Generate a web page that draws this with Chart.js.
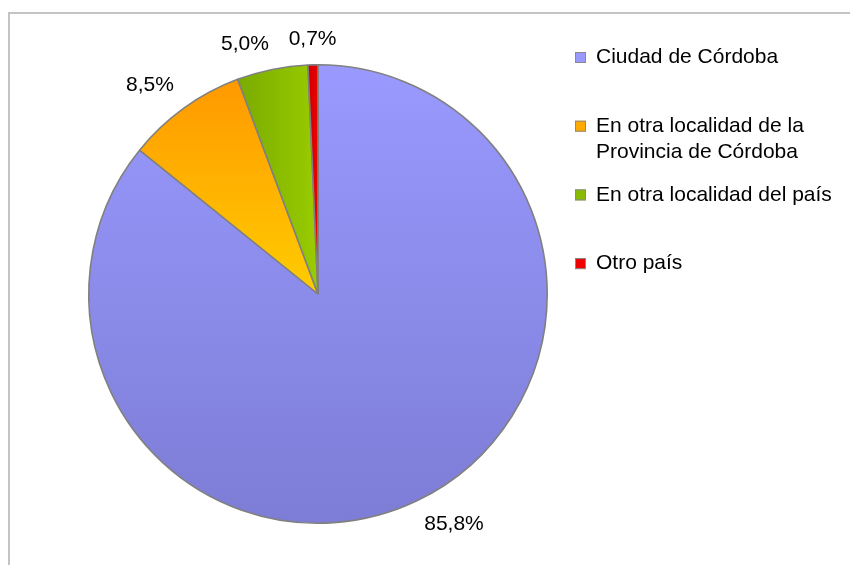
<!DOCTYPE html>
<html>
<head>
<meta charset="utf-8">
<script src="https://cdn.jsdelivr.net/npm/chart.js@4.4.1/dist/chart.umd.min.js"></script>
<style>
  html, body { margin: 0; padding: 0; background: #ffffff; }
  #wrap { position: relative; width: 850px; height: 565px; overflow: hidden; }
  #frame { position: absolute; left: 8px; top: 12px; width: 900px; height: 600px;
           border-top: 2px solid #c4c4c4; border-left: 2px solid #c4c4c4; }
  canvas { position: absolute; left: 0; top: 0; }
</style>
</head>
<body>
<div id="wrap">
  <div id="frame"></div>
  <canvas id="c" width="850" height="565"></canvas>
</div>
<script>
// ---- data ----
const categories = [
  'Ciudad de Córdoba',
  ['En otra localidad de la', 'Provincia de Córdoba'],
  'En otra localidad del país',
  'Otro país'
];
const values = [85.8, 8.5, 5.0, 0.7];
const valueLabels = ['85,8%', '8,5%', '5,0%', '0,7%'];

// ---- styles ----
const gradStops = [
  ['#9999ff', '#7d7dd6'],
  ['#ff9900', '#ffcc00'],
  ['#7aaa00', '#99cc00'],
  ['#cc0000', '#ee0000']
];
const gradDir = ['vertical', 'vertical', 'horizontal', 'horizontal'];
const legendSwatch = ['#9999ff', '#ffaa00', '#88bb00', '#ee0000'];
const FONT = '21px "Liberation Sans", Arial, sans-serif';

function sliceAngles(i) {
  const total = values.reduce((a, b) => a + b, 0);
  let start = -Math.PI / 2;
  for (let k = 0; k < i; k++) start += values[k] / total * Math.PI * 2;
  return [start, start + values[i] / total * Math.PI * 2];
}

function bg(ctx) {
  const chart = ctx.chart;
  const area = chart.chartArea;
  const i = ctx.dataIndex;
  if (!area) return gradStops[i][0];
  const cx = (area.left + area.right) / 2;
  const cy = (area.top + area.bottom) / 2;
  const r = Math.min(area.right - area.left, area.bottom - area.top) / 2;
  const [a0, a1] = sliceAngles(i);
  const pts = [[cx, cy]];
  const steps = 24;
  for (let s = 0; s <= steps; s++) {
    const a = a0 + (a1 - a0) * s / steps;
    pts.push([cx + r * Math.cos(a), cy + r * Math.sin(a)]);
  }
  const xs = pts.map(p => p[0]), ys = pts.map(p => p[1]);
  const c = chart.ctx;
  let g;
  if (gradDir[i] === 'vertical') {
    g = c.createLinearGradient(0, Math.min(...ys), 0, Math.max(...ys));
  } else {
    g = c.createLinearGradient(Math.min(...xs), 0, Math.max(...xs), 0);
  }
  g.addColorStop(0, gradStops[i][0]);
  g.addColorStop(1, gradStops[i][1]);
  return g;
}

const labelPlugin = {
  id: 'sliceLabels',
  afterDatasetsDraw(chart) {
    const c = chart.ctx;
    const meta = chart.getDatasetMeta(0);
    c.save();
    c.font = FONT;
    c.fillStyle = '#000000';
    meta.data.forEach((arc, i) => {
      const mid = (arc.startAngle + arc.endAngle) / 2;
      const d = arc.outerRadius + 17;
      const ax = arc.x + d * Math.cos(mid);
      const ay = arc.y + d * Math.sin(mid);
      const t = valueLabels[i];
      const m = c.measureText(t);
      const w = m.width;
      const asc = m.actualBoundingBoxAscent;
      const desc = m.actualBoundingBoxDescent;
      const cs = Math.cos(mid), sn = Math.sin(mid);
      let x;
      if (Math.abs(cs) < 0.1) x = ax - w / 2;
      else if (cs > 0) x = ax;
      else x = ax - w;
      let y;
      if (sn > 0) y = ay + asc;
      else y = ay - desc;
      c.textAlign = 'left';
      c.textBaseline = 'alphabetic';
      c.fillText(t, x, y);
    });
    c.restore();
  }
};

const legendPlugin = {
  id: 'sideLegend',
  afterDraw(chart) {
    const c = chart.ctx;
    c.save();
    c.font = FONT;
    c.textBaseline = 'middle';
    c.textAlign = 'left';
    const labels = chart.data.labels;
    labels.forEach((lab, i) => {
      const y0 = 57.5 + i * 68.7;
      c.fillStyle = legendSwatch[i];
      c.fillRect(575, y0 - 5.5, 11, 11);
      c.strokeStyle = '#8a8a8a';
      c.lineWidth = 1;
      c.strokeRect(575.5, y0 - 5, 10, 10);
      c.fillStyle = '#000000';
      const lines = Array.isArray(lab) ? lab : [lab];
      lines.forEach((ln, k) => c.fillText(ln, 596, y0 + k * 26.5));
    });
    c.restore();
  }
};

new Chart(document.getElementById('c'), {
  type: 'pie',
  data: {
    labels: categories,
    datasets: [{
      data: values,
      backgroundColor: bg,
      borderColor: '#808080',
      borderWidth: 1.6,
      borderAlign: 'center'
    }]
  },
  options: {
    responsive: false,
    animation: false,
    events: [],
    layout: { padding: { left: 88, right: 302, top: 64, bottom: 41 } },
    plugins: {
      legend: { display: false },
      tooltip: { enabled: false },
      title: { display: false }
    }
  },
  plugins: [labelPlugin, legendPlugin]
});
</script>
</body>
</html>
